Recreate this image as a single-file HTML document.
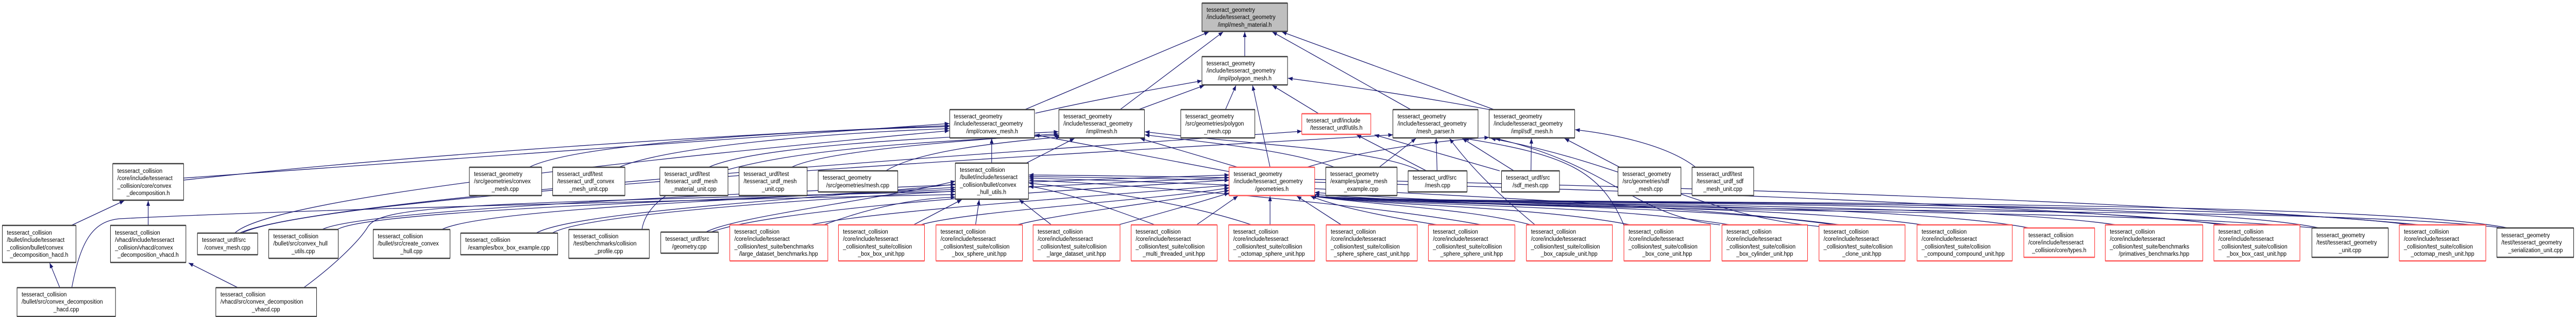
<!DOCTYPE html>
<html><head><meta charset="utf-8">
<style>
html,body{margin:0;padding:0;background:#fff;width:100%;height:100%;overflow:hidden;}
svg{display:block;width:100vw;height:100vh;}
text{font-family:"Liberation Sans",Arial,sans-serif;font-size:12px;fill:#000;}
.e{fill:none;stroke:#191970;stroke-width:1.3;marker-end:url(#a);}
.b rect{fill:#fff;stroke:#000;stroke-width:1;}
.r rect{fill:#fff;stroke:#ff0000;stroke-width:1;}
.b line{stroke:#404040;stroke-width:2.5;}
.r line{stroke:#ff5a5a;stroke-width:2.5;}
</style></head><body>
<svg viewBox="0 0 5598 616" preserveAspectRatio="none" xmlns="http://www.w3.org/2000/svg">
<defs><marker id="a" viewBox="0 0 10 10" refX="10" refY="5" markerWidth="10" markerHeight="10" markerUnits="userSpaceOnUse" orient="auto"><path d="M0,1 L10,5 L0,9z" fill="#191970"/></marker></defs>

<g>
<path class="e" d="M2705,110 L2705,62"/>
<path class="e" d="M2227,213 L2627,62"/>
<path class="e" d="M2434,213 L2658,62"/>
<path class="e" d="M3066,213 L2765,62"/>
<path class="e" d="M3247,213 L2786,62"/>
<path class="e" d="M2250,220 C2400,190 2500,175 2612,157"/>
<path class="e" d="M2474,213 L2617,166"/>
<path class="e" d="M2663,213 L2686,166"/>
<path class="e" d="M2760,325 L2722,166"/>
<path class="e" d="M2866,221 L2765,166"/>
<path class="e" d="M3237,213 C3100,190 2950,170 2799,152"/>

<path class="e" d="M399,346 L2063,240"/>
<path class="e" d="M399,350 C900,300 1600,260 2063,244"/>
<path class="e" d="M1150,325 C1250,280 1700,255 2063,246"/>
<path class="e" d="M1345,325 C1450,285 1800,258 2063,250"/>
<path class="e" d="M2155,317 L2155,269"/>
<path class="e" d="M510,453 C560,410 900,350 2063,254"/>
<path class="e" d="M1540,325 C1650,280 2100,265 2300,256"/>
<path class="e" d="M1720,325 C1800,290 2150,270 2300,260"/>
<path class="e" d="M1925,332 C2000,290 2200,275 2305,266"/>
<path class="e" d="M1395,446 C1420,300 1900,280 2302,263"/>
<path class="e" d="M2230,317 L2335,269"/>
<path class="e" d="M2690,325 L2478,269"/>
<path class="e" d="M2680,335 L2249,262"/>
<path class="e" d="M3085,332 C3000,290 2700,280 2488,256"/>
<path class="e" d="M2900,325 C2800,290 2600,275 2488,262"/>
<path class="e" d="M3100,332 L2948,262"/>
<path class="e" d="M3259,332 L2987,262"/>
<path class="e" d="M520,453 C700,380 2300,290 2829,255"/>
<path class="e" d="M2997,325 L3077,269"/>
<path class="e" d="M3123,332 L3121,269"/>
<path class="e" d="M3290,332 L3178,269"/>
<path class="e" d="M525,453 C700,375 2500,290 3027,262"/>
<path class="e" d="M3336,437 C3260,380 3200,330 3150,269"/>
<path class="e" d="M3530,440 C3480,330 3400,300 3182,269"/>
<path class="e" d="M3327,332 L3328,269"/>
<path class="e" d="M3520,325 L3400,269"/>
<path class="e" d="M3685,325 C3620,280 3500,260 3423,252"/>
<path class="e" d="M2840,325 C2950,295 3100,275 3236,267"/>
<path class="e" d="M3738,437 C3550,420 3500,320 3250,269"/>
<path class="e" d="M3953,440 C3700,420 3550,320 3240,269"/>

<path class="e" d="M155,438 L270,390"/>
<path class="e" d="M322,438 L322,390"/>
<path class="e" d="M130,559 L108,511"/>
<path class="e" d="M517,559 L410,511"/>
<path class="e" d="M156,559 C175,470 200,430 260,425 C700,405 1700,385 2076,378"/>
<path class="e" d="M660,559 C720,520 780,470 800,440 C830,400 1000,395 2076,372"/>
<path class="e" d="M733,446 C800,410 1500,390 2076,368"/>
<path class="e" d="M960,446 C1050,405 1700,385 2076,364"/>
<path class="e" d="M1165,453 C1250,410 1800,385 2076,358"/>
<path class="e" d="M1534,451 C1600,420 1900,390 2076,352"/>
<path class="e" d="M1790,437 C1900,400 2000,385 2076,383"/>
<path class="e" d="M1985,437 L2090,388"/>
<path class="e" d="M2120,437 L2128,388"/>
<path class="e" d="M2285,437 L2215,388"/>
<path class="e" d="M2510,437 C2400,400 2300,370 2236,362"/>
<path class="e" d="M2720,437 C2600,400 2400,370 2236,356"/>
<path class="e" d="M3220,437 C3000,400 2500,360 2236,350"/>
<path class="e" d="M4000,437 C3600,390 2600,355 2236,346"/>
<path class="e" d="M4850,437 C4200,380 2800,350 2236,343"/>
<path class="e" d="M5260,437 C4600,380 2900,345 2236,340"/>

<path class="e" d="M1760,437 C1900,410 2400,380 2671,360"/>
<path class="e" d="M2000,437 C2100,410 2500,390 2671,365"/>
<path class="e" d="M2210,437 C2300,415 2550,390 2671,370"/>
<path class="e" d="M2430,437 C2500,420 2600,395 2671,375"/>
<path class="e" d="M2600,437 L2690,381"/>
<path class="e" d="M2760,437 L2760,381"/>
<path class="e" d="M2915,437 L2818,381"/>
<path class="e" d="M1545,451 C1700,400 2400,365 2671,350"/>
<path class="e" d="M1200,453 C1300,400 2300,360 2671,345"/>
<path class="e" d="M700,446 C800,400 2000,360 2671,340"/>
<path class="e" d="M3125,437 C3000,420 2900,400 2848,381"/>
<path class="e" d="M3340,440 C3200,405 3000,400 2850,381"/>
<path class="e" d="M3560,440 C3350,400 3000,400 2850,381"/>
<path class="e" d="M3780,440 C3500,395 3000,400 2850,381"/>
<path class="e" d="M4010,440 C3700,395 3050,400 2850,381"/>
<path class="e" d="M4200,440 C3900,395 3050,400 2850,381"/>
<path class="e" d="M4410,443 C4100,390 3100,400 2850,381"/>
<path class="e" d="M4620,440 C4300,390 3100,400 2850,381"/>
<path class="e" d="M4850,440 C4500,385 3100,400 2850,381"/>
<path class="e" d="M5040,443 C4700,380 3100,400 2850,381"/>
<path class="e" d="M5260,440 C4900,385 3100,400 2850,381"/>
<path class="e" d="M5450,443 C5100,380 3100,400 2850,381"/>
<path class="e" d="M5030,443 C4500,400 3500,420 2857,378"/>
<path class="e" d="M5440,443 C5000,395 3600,425 2857,374"/>
</g>

<g class="b"><rect x="2612" y="6" width="186" height="55" style="fill:#bfbfbf"/><line x1="2612" y1="6" x2="2798" y2="6"/><line x1="2612" y1="61" x2="2798" y2="61"/>
<text x="2622" y="23">tesseract_geometry</text><text x="2622" y="37">/include/tesseract_geometry</text><text x="2705" y="52" text-anchor="middle">/impl/mesh_material.h</text></g>

<g class="b"><rect x="2612" y="110" width="186" height="55"/><line x1="2612" y1="110" x2="2798" y2="110"/><line x1="2612" y1="165" x2="2798" y2="165"/>
<text x="2622" y="127">tesseract_geometry</text><text x="2622" y="141">/include/tesseract_geometry</text><text x="2705" y="156" text-anchor="middle">/impl/polygon_mesh.h</text></g>

<g class="b"><rect x="2064" y="213" width="184" height="55"/><line x1="2064" y1="213" x2="2248" y2="213"/><line x1="2064" y1="268" x2="2248" y2="268"/>
<text x="2073" y="230">tesseract_geometry</text><text x="2073" y="244">/include/tesseract_geometry</text><text x="2156" y="259" text-anchor="middle">/impl/convex_mesh.h</text></g>

<g class="b"><rect x="2301" y="213" width="186" height="55"/><line x1="2301" y1="213" x2="2487" y2="213"/><line x1="2301" y1="268" x2="2487" y2="268"/>
<text x="2311" y="230">tesseract_geometry</text><text x="2311" y="244">/include/tesseract_geometry</text><text x="2394" y="259" text-anchor="middle">/impl/mesh.h</text></g>

<g class="b"><rect x="2566" y="213" width="161" height="55"/><line x1="2566" y1="213" x2="2727" y2="213"/><line x1="2566" y1="268" x2="2727" y2="268"/>
<text x="2576" y="230">tesseract_geometry</text><text x="2576" y="244">/src/geometries/polygon</text><text x="2646" y="259" text-anchor="middle">_mesh.cpp</text></g>

<g class="r"><rect x="2829" y="221" width="150" height="40"/><line x1="2829" y1="221" x2="2979" y2="221"/><line x1="2829" y1="261" x2="2979" y2="261"/>
<text x="2839" y="238">tesseract_urdf/include</text><text x="2904" y="252" text-anchor="middle">/tesseract_urdf/utils.h</text></g>

<g class="b"><rect x="3027" y="213" width="185" height="55"/><line x1="3027" y1="213" x2="3212" y2="213"/><line x1="3027" y1="268" x2="3212" y2="268"/>
<text x="3037" y="230">tesseract_geometry</text><text x="3037" y="244">/include/tesseract_geometry</text><text x="3119" y="259" text-anchor="middle">/mesh_parser.h</text></g>

<g class="b"><rect x="3236" y="213" width="186" height="55"/><line x1="3236" y1="213" x2="3422" y2="213"/><line x1="3236" y1="268" x2="3422" y2="268"/>
<text x="3246" y="230">tesseract_geometry</text><text x="3246" y="244">/include/tesseract_geometry</text><text x="3329" y="259" text-anchor="middle">/impl/sdf_mesh.h</text></g>

<g class="b"><rect x="245" y="318" width="154" height="71"/><line x1="245" y1="318" x2="399" y2="318"/><line x1="245" y1="389" x2="399" y2="389"/>
<text x="255" y="336">tesseract_collision</text><text x="255" y="350">/core/include/tesseract</text><text x="255" y="365">_collision/core/convex</text><text x="322" y="379" text-anchor="middle">_decomposition.h</text></g>

<g class="b"><rect x="1020" y="325" width="157" height="55"/><line x1="1020" y1="325" x2="1177" y2="325"/><line x1="1020" y1="380" x2="1177" y2="380"/>
<text x="1030" y="342">tesseract_geometry</text><text x="1030" y="356">/src/geometries/convex</text><text x="1098" y="371" text-anchor="middle">_mesh.cpp</text></g>

<g class="b"><rect x="1201" y="325" width="157" height="55"/><line x1="1201" y1="325" x2="1358" y2="325"/><line x1="1201" y1="380" x2="1358" y2="380"/>
<text x="1211" y="342">tesseract_urdf/test</text><text x="1211" y="356">/tesseract_urdf_convex</text><text x="1279" y="371" text-anchor="middle">_mesh_unit.cpp</text></g>

<g class="b"><rect x="1434" y="325" width="148" height="55"/><line x1="1434" y1="325" x2="1582" y2="325"/><line x1="1434" y1="380" x2="1582" y2="380"/>
<text x="1444" y="342">tesseract_urdf/test</text><text x="1444" y="356">/tesseract_urdf_mesh</text><text x="1508" y="371" text-anchor="middle">_material_unit.cpp</text></g>

<g class="b"><rect x="1606" y="325" width="148" height="55"/><line x1="1606" y1="325" x2="1754" y2="325"/><line x1="1606" y1="380" x2="1754" y2="380"/>
<text x="1616" y="342">tesseract_urdf/test</text><text x="1616" y="356">/tesseract_urdf_mesh</text><text x="1680" y="371" text-anchor="middle">_unit.cpp</text></g>

<g class="b"><rect x="1778" y="332" width="173" height="41"/><line x1="1778" y1="332" x2="1951" y2="332"/><line x1="1778" y1="373" x2="1951" y2="373"/>
<text x="1788" y="349">tesseract_geometry</text><text x="1864" y="364" text-anchor="middle">/src/geometries/mesh.cpp</text></g>

<g class="b"><rect x="2076" y="317" width="159" height="70"/><line x1="2076" y1="317" x2="2235" y2="317"/><line x1="2076" y1="387" x2="2235" y2="387"/>
<text x="2086" y="334">tesseract_collision</text><text x="2086" y="348">/bullet/include/tesseract</text><text x="2086" y="363">_collision/bullet/convex</text><text x="2155" y="377" text-anchor="middle">_hull_utils.h</text></g>

<g class="r"><rect x="2671" y="325" width="186" height="55"/><line x1="2671" y1="325" x2="2857" y2="325"/><line x1="2671" y1="380" x2="2857" y2="380"/>
<text x="2681" y="342">tesseract_geometry</text><text x="2681" y="356">/include/tesseract_geometry</text><text x="2764" y="371" text-anchor="middle">/geometries.h</text></g>

<g class="b"><rect x="2881" y="325" width="155" height="55"/><line x1="2881" y1="325" x2="3036" y2="325"/><line x1="2881" y1="380" x2="3036" y2="380"/>
<text x="2891" y="342">tesseract_geometry</text><text x="2891" y="356">/examples/parse_mesh</text><text x="2958" y="371" text-anchor="middle">_example.cpp</text></g>

<g class="b"><rect x="3060" y="332" width="128" height="41"/><line x1="3060" y1="332" x2="3188" y2="332"/><line x1="3060" y1="373" x2="3188" y2="373"/>
<text x="3070" y="349">tesseract_urdf/src</text><text x="3124" y="364" text-anchor="middle">/mesh.cpp</text></g>

<g class="b"><rect x="3263" y="332" width="126" height="41"/><line x1="3263" y1="332" x2="3389" y2="332"/><line x1="3263" y1="373" x2="3389" y2="373"/>
<text x="3273" y="349">tesseract_urdf/src</text><text x="3326" y="364" text-anchor="middle">/sdf_mesh.cpp</text></g>

<g class="b"><rect x="3516" y="325" width="137" height="55"/><line x1="3516" y1="325" x2="3653" y2="325"/><line x1="3516" y1="380" x2="3653" y2="380"/>
<text x="3526" y="342">tesseract_geometry</text><text x="3526" y="356">/src/geometries/sdf</text><text x="3584" y="371" text-anchor="middle">_mesh.cpp</text></g>

<g class="b"><rect x="3677" y="325" width="134" height="55"/><line x1="3677" y1="325" x2="3811" y2="325"/><line x1="3677" y1="380" x2="3811" y2="380"/>
<text x="3687" y="342">tesseract_urdf/test</text><text x="3687" y="356">/tesseract_urdf_sdf</text><text x="3744" y="371" text-anchor="middle">_mesh_unit.cpp</text></g>

<g class="b"><rect x="5" y="438" width="160" height="72"/><line x1="5" y1="438" x2="165" y2="438"/><line x1="5" y1="510" x2="165" y2="510"/>
<text x="15" y="456">tesseract_collision</text><text x="15" y="470">/bullet/include/tesseract</text><text x="15" y="485">_collision/bullet/convex</text><text x="85" y="499" text-anchor="middle">_decomposition_hacd.h</text></g>

<g class="b"><rect x="240" y="438" width="164" height="72"/><line x1="240" y1="438" x2="404" y2="438"/><line x1="240" y1="510" x2="404" y2="510"/>
<text x="250" y="456">tesseract_collision</text><text x="250" y="470">/vhacd/include/tesseract</text><text x="250" y="485">_collision/vhacd/convex</text><text x="322" y="499" text-anchor="middle">_decomposition_vhacd.h</text></g>

<g class="b"><rect x="429" y="453" width="131" height="42"/><line x1="429" y1="453" x2="560" y2="453"/><line x1="429" y1="495" x2="560" y2="495"/>
<text x="439" y="470">tesseract_urdf/src</text><text x="494" y="485" text-anchor="middle">/convex_mesh.cpp</text></g>

<g class="b"><rect x="584" y="446" width="151" height="56"/><line x1="584" y1="446" x2="735" y2="446"/><line x1="584" y1="502" x2="735" y2="502"/>
<text x="594" y="463">tesseract_collision</text><text x="594" y="477">/bullet/src/convex_hull</text><text x="659" y="492" text-anchor="middle">_utils.cpp</text></g>

<g class="b"><rect x="811" y="446" width="167" height="56"/><line x1="811" y1="446" x2="978" y2="446"/><line x1="811" y1="502" x2="978" y2="502"/>
<text x="821" y="463">tesseract_collision</text><text x="821" y="477">/bullet/src/create_convex</text><text x="894" y="492" text-anchor="middle">_hull.cpp</text></g>

<g class="b"><rect x="1001" y="453" width="211" height="42"/><line x1="1001" y1="453" x2="1212" y2="453"/><line x1="1001" y1="495" x2="1212" y2="495"/>
<text x="1011" y="470">tesseract_collision</text><text x="1106" y="485" text-anchor="middle">/examples/box_box_example.cpp</text></g>

<g class="b"><rect x="1236" y="446" width="175" height="56"/><line x1="1236" y1="446" x2="1411" y2="446"/><line x1="1236" y1="502" x2="1411" y2="502"/>
<text x="1246" y="463">tesseract_collision</text><text x="1246" y="477">/test/benchmarks/collision</text><text x="1323" y="492" text-anchor="middle">_profile.cpp</text></g>

<g class="b"><rect x="1436" y="451" width="125" height="41"/><line x1="1436" y1="451" x2="1561" y2="451"/><line x1="1436" y1="492" x2="1561" y2="492"/>
<text x="1446" y="468">tesseract_urdf/src</text><text x="1498" y="483" text-anchor="middle">/geometry.cpp</text></g>

<g class="r"><rect x="1586" y="437" width="213" height="70"/><line x1="1586" y1="437" x2="1799" y2="437"/><line x1="1586" y1="507" x2="1799" y2="507"/>
<text x="1596" y="454">tesseract_collision</text><text x="1596" y="468">/core/include/tesseract</text><text x="1596" y="483">_collision/test_suite/benchmarks</text><text x="1692" y="497" text-anchor="middle">/large_dataset_benchmarks.hpp</text></g>

<g class="r"><rect x="1822" y="437" width="187" height="70"/><line x1="1822" y1="437" x2="2009" y2="437"/><line x1="1822" y1="507" x2="2009" y2="507"/>
<text x="1832" y="454">tesseract_collision</text><text x="1832" y="468">/core/include/tesseract</text><text x="1832" y="483">_collision/test_suite/collision</text><text x="1915" y="497" text-anchor="middle">_box_box_unit.hpp</text></g>

<g class="r"><rect x="2034" y="437" width="188" height="70"/><line x1="2034" y1="437" x2="2222" y2="437"/><line x1="2034" y1="507" x2="2222" y2="507"/>
<text x="2044" y="454">tesseract_collision</text><text x="2044" y="468">/core/include/tesseract</text><text x="2044" y="483">_collision/test_suite/collision</text><text x="2128" y="497" text-anchor="middle">_box_sphere_unit.hpp</text></g>

<g class="r"><rect x="2245" y="437" width="189" height="70"/><line x1="2245" y1="437" x2="2434" y2="437"/><line x1="2245" y1="507" x2="2434" y2="507"/>
<text x="2255" y="454">tesseract_collision</text><text x="2255" y="468">/core/include/tesseract</text><text x="2255" y="483">_collision/test_suite/collision</text><text x="2339" y="497" text-anchor="middle">_large_dataset_unit.hpp</text></g>

<g class="r"><rect x="2458" y="437" width="187" height="70"/><line x1="2458" y1="437" x2="2645" y2="437"/><line x1="2458" y1="507" x2="2645" y2="507"/>
<text x="2468" y="454">tesseract_collision</text><text x="2468" y="468">/core/include/tesseract</text><text x="2468" y="483">_collision/test_suite/collision</text><text x="2551" y="497" text-anchor="middle">_multi_threaded_unit.hpp</text></g>

<g class="r"><rect x="2670" y="437" width="187" height="70"/><line x1="2670" y1="437" x2="2857" y2="437"/><line x1="2670" y1="507" x2="2857" y2="507"/>
<text x="2680" y="454">tesseract_collision</text><text x="2680" y="468">/core/include/tesseract</text><text x="2680" y="483">_collision/test_suite/collision</text><text x="2763" y="497" text-anchor="middle">_octomap_sphere_unit.hpp</text></g>

<g class="r"><rect x="2882" y="437" width="198" height="70"/><line x1="2882" y1="437" x2="3080" y2="437"/><line x1="2882" y1="507" x2="3080" y2="507"/>
<text x="2892" y="454">tesseract_collision</text><text x="2892" y="468">/core/include/tesseract</text><text x="2892" y="483">_collision/test_suite/collision</text><text x="2981" y="497" text-anchor="middle">_sphere_sphere_cast_unit.hpp</text></g>

<g class="r"><rect x="3104" y="437" width="188" height="70"/><line x1="3104" y1="437" x2="3292" y2="437"/><line x1="3104" y1="507" x2="3292" y2="507"/>
<text x="3114" y="454">tesseract_collision</text><text x="3114" y="468">/core/include/tesseract</text><text x="3114" y="483">_collision/test_suite/collision</text><text x="3198" y="497" text-anchor="middle">_sphere_sphere_unit.hpp</text></g>

<g class="r"><rect x="3317" y="437" width="187" height="70"/><line x1="3317" y1="437" x2="3504" y2="437"/><line x1="3317" y1="507" x2="3504" y2="507"/>
<text x="3327" y="454">tesseract_collision</text><text x="3327" y="468">/core/include/tesseract</text><text x="3327" y="483">_collision/test_suite/collision</text><text x="3410" y="497" text-anchor="middle">_box_capsule_unit.hpp</text></g>

<g class="r"><rect x="3529" y="437" width="188" height="70"/><line x1="3529" y1="437" x2="3717" y2="437"/><line x1="3529" y1="507" x2="3717" y2="507"/>
<text x="3539" y="454">tesseract_collision</text><text x="3539" y="468">/core/include/tesseract</text><text x="3539" y="483">_collision/test_suite/collision</text><text x="3623" y="497" text-anchor="middle">_box_cone_unit.hpp</text></g>

<g class="r"><rect x="3742" y="437" width="186" height="70"/><line x1="3742" y1="437" x2="3928" y2="437"/><line x1="3742" y1="507" x2="3928" y2="507"/>
<text x="3752" y="454">tesseract_collision</text><text x="3752" y="468">/core/include/tesseract</text><text x="3752" y="483">_collision/test_suite/collision</text><text x="3835" y="497" text-anchor="middle">_box_cylinder_unit.hpp</text></g>

<g class="r"><rect x="3953" y="437" width="187" height="70"/><line x1="3953" y1="437" x2="4140" y2="437"/><line x1="3953" y1="507" x2="4140" y2="507"/>
<text x="3963" y="454">tesseract_collision</text><text x="3963" y="468">/core/include/tesseract</text><text x="3963" y="483">_collision/test_suite/collision</text><text x="4046" y="497" text-anchor="middle">_clone_unit.hpp</text></g>

<g class="r"><rect x="4166" y="437" width="207" height="70"/><line x1="4166" y1="437" x2="4373" y2="437"/><line x1="4166" y1="507" x2="4373" y2="507"/>
<text x="4176" y="454">tesseract_collision</text><text x="4176" y="468">/core/include/tesseract</text><text x="4176" y="483">_collision/test_suite/collision</text><text x="4269" y="497" text-anchor="middle">_compound_compound_unit.hpp</text></g>

<g class="r"><rect x="4398" y="443" width="154" height="57"/><line x1="4398" y1="443" x2="4552" y2="443"/><line x1="4398" y1="500" x2="4552" y2="500"/>
<text x="4408" y="461">tesseract_collision</text><text x="4408" y="475">/core/include/tesseract</text><text x="4475" y="490" text-anchor="middle">_collision/core/types.h</text></g>

<g class="r"><rect x="4575" y="437" width="212" height="70"/><line x1="4575" y1="437" x2="4787" y2="437"/><line x1="4575" y1="507" x2="4787" y2="507"/>
<text x="4585" y="454">tesseract_collision</text><text x="4585" y="468">/core/include/tesseract</text><text x="4585" y="483">_collision/test_suite/benchmarks</text><text x="4681" y="497" text-anchor="middle">/primatives_benchmarks.hpp</text></g>

<g class="r"><rect x="4811" y="437" width="187" height="70"/><line x1="4811" y1="437" x2="4998" y2="437"/><line x1="4811" y1="507" x2="4998" y2="507"/>
<text x="4821" y="454">tesseract_collision</text><text x="4821" y="468">/core/include/tesseract</text><text x="4821" y="483">_collision/test_suite/collision</text><text x="4904" y="497" text-anchor="middle">_box_box_cast_unit.hpp</text></g>

<g class="b"><rect x="5024" y="443" width="166" height="57"/><line x1="5024" y1="443" x2="5190" y2="443"/><line x1="5024" y1="500" x2="5190" y2="500"/>
<text x="5034" y="461">tesseract_geometry</text><text x="5034" y="475">/test/tesseract_geometry</text><text x="5107" y="490" text-anchor="middle">_unit.cpp</text></g>

<g class="r"><rect x="5214" y="437" width="188" height="70"/><line x1="5214" y1="437" x2="5402" y2="437"/><line x1="5214" y1="507" x2="5402" y2="507"/>
<text x="5224" y="454">tesseract_collision</text><text x="5224" y="468">/core/include/tesseract</text><text x="5224" y="483">_collision/test_suite/collision</text><text x="5308" y="497" text-anchor="middle">_octomap_mesh_unit.hpp</text></g>

<g class="b"><rect x="5426" y="443" width="167" height="57"/><line x1="5426" y1="443" x2="5593" y2="443"/><line x1="5426" y1="500" x2="5593" y2="500"/>
<text x="5436" y="461">tesseract_geometry</text><text x="5436" y="475">/test/tesseract_geometry</text><text x="5510" y="490" text-anchor="middle">_serialization_unit.cpp</text></g>

<g class="b"><rect x="37" y="559" width="214" height="56"/><line x1="37" y1="559" x2="251" y2="559"/><line x1="37" y1="615" x2="251" y2="615"/>
<text x="47" y="576">tesseract_collision</text><text x="47" y="590">/bullet/src/convex_decomposition</text><text x="144" y="605" text-anchor="middle">_hacd.cpp</text></g>

<g class="b"><rect x="469" y="559" width="219" height="56"/><line x1="469" y1="559" x2="688" y2="559"/><line x1="469" y1="615" x2="688" y2="615"/>
<text x="479" y="576">tesseract_collision</text><text x="479" y="590">/vhacd/src/convex_decomposition</text><text x="578" y="605" text-anchor="middle">_vhacd.cpp</text></g>
</svg>
</body></html>
